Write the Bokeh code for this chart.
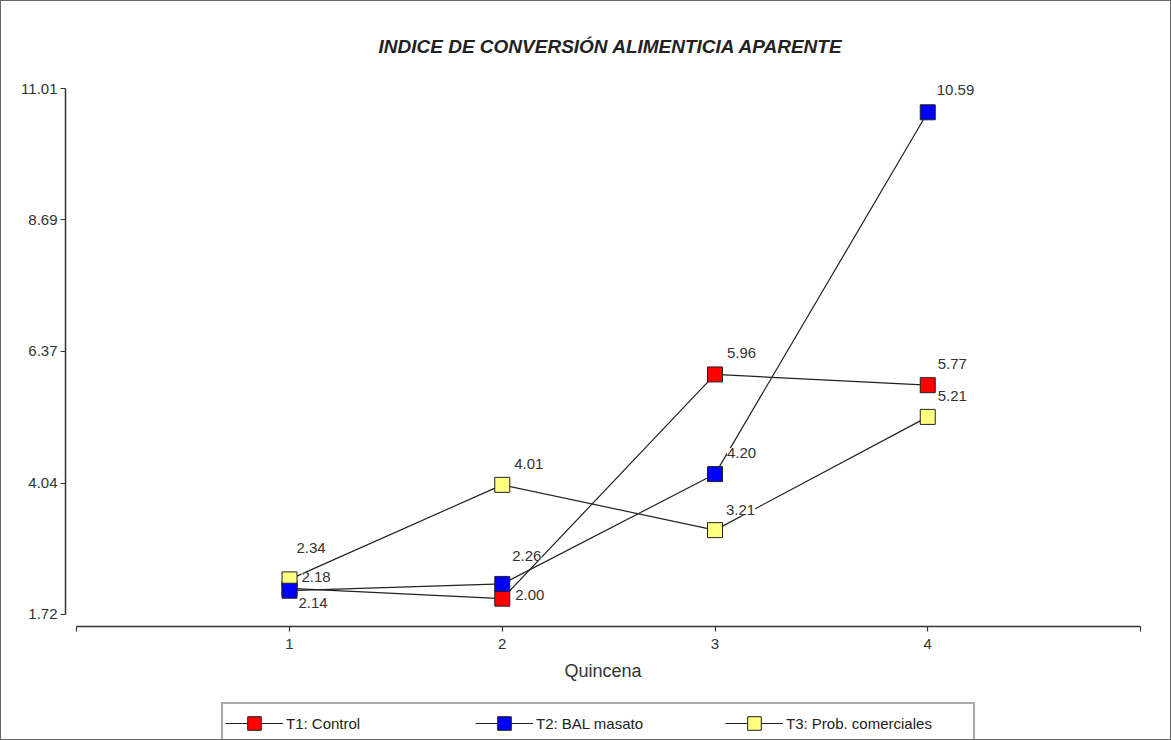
from bokeh.plotting import figure
from bokeh.layouts import column
from bokeh.models import (ColumnDataSource, FixedTicker, LabelSet, Legend, LegendItem,
                          Range1d)
from bokeh.core.properties import value
from bokeh.embed import file_html
from bokeh.resources import INLINE

# ---- data ----
quincena = [1, 2, 3, 4]
t1_control = [2.18, 2.00, 5.96, 5.77]
t2_bal_masato = [2.14, 2.26, 4.20, 10.59]
t3_prob_comerciales = [2.34, 4.01, 3.21, 5.21]
series_names = ["T1: Control", "T2: BAL masato", "T3: Prob. comerciales"]
y_tick_values = [1.72, 4.04, 6.37, 8.69, 11.01]
y_tick_labels = ["1.72", "4.04", "6.37", "8.69", "11.01"]
x_tick_values = [0, 1, 2, 3, 4, 5]
x_tick_labels = ["", "1", "2", "3", "4", ""]
title_text = "INDICE DE CONVERSIÓN ALIMENTICIA APARENTE"
x_axis_title = "Quincena"

# ---- style (label placement, colours) ----
colors = ["#FF0000", "#0000FF", "#FFFF80"]
label_dx = [[12, 13, 12, 10], [9, 10, 12, 9], [7, 12, 11, 10]]
label_dy = [[11, 4, 21, 21], [-12, 28, 21, 22], [31, 21, 20, 21]]

FONT = "Liberation Sans"
TXT = "#333333"
W = 1169

p = figure(width=W, height=700, output_backend="svg", toolbar_location=None,
           x_range=Range1d(-0.053, 5.0), y_range=Range1d(1.508, 11.24),
           min_border_left=64, min_border_right=30, min_border_top=74,
           min_border_bottom=75)
p.grid.visible = False
p.outline_line_color = None
p.background_fill_color = "white"
p.border_fill_color = "white"

# title
p.title.text = title_text
p.title.align = "left"
p.title.offset = 313
p.title.standoff = 38
p.title.text_font = FONT
p.title.text_font_style = "bold italic"
p.title.text_font_size = "19px"
p.title.text_color = "#222222"

# axes
for ax in (p.xaxis[0], p.yaxis[0]):
    ax.axis_line_color = "#333333"
    ax.axis_line_width = 1.5
    ax.major_tick_line_color = "#333333"
    ax.major_tick_line_width = 1.2
    ax.major_tick_out = 5
    ax.major_tick_in = 0
    ax.minor_tick_line_color = None
    ax.major_label_text_font = FONT
    ax.major_label_text_font_size = "15px"
    ax.major_label_text_color = TXT

p.yaxis.ticker = FixedTicker(ticks=y_tick_values)
p.yaxis.major_label_overrides = {v: s for v, s in zip(y_tick_values, y_tick_labels)}
p.yaxis.bounds = (y_tick_values[0], y_tick_values[-1])
p.yaxis.major_label_standoff = 3

p.xaxis.ticker = FixedTicker(ticks=x_tick_values)
p.xaxis.major_label_overrides = {v: s for v, s in zip(x_tick_values, x_tick_labels)}
p.xaxis.bounds = (x_tick_values[0], x_tick_values[-1])
p.xaxis.major_label_standoff = 7
p.xaxis.axis_label = x_axis_title
p.xaxis.axis_label_text_font = FONT
p.xaxis.axis_label_text_font_style = "normal"
p.xaxis.axis_label_text_font_size = "18px"
p.xaxis.axis_label_text_color = TXT
p.xaxis.axis_label_standoff = 9

# series
all_series = [t1_control, t2_bal_masato, t3_prob_comerciales]
sources = []
for i, vals in enumerate(all_series):
    src = ColumnDataSource(dict(x=quincena, y=vals,
                                txt=[f"{v:.2f}" for v in vals],
                                dx=label_dx[i], dy=label_dy[i]))
    p.line("x", "y", source=src, line_color="#222222", line_width=1.2)
    sources.append(src)

for src in sources:
    ls = LabelSet(x="x", y="y", text="txt", source=src, x_offset="dx", y_offset="dy",
                  text_font=value(FONT), text_font_size=value("15px"),
                  text_color=TXT, text_baseline="middle", text_align="left",
                  background_fill_color="white")
    p.add_layout(ls)

for i in [0, 2, 1]:
    p.scatter("x", "y", source=sources[i], marker="square", size=15,
              fill_color=colors[i], line_color="#222222", line_width=1)

# ---- legend strip (separate canvas under the chart) ----
lg = figure(width=W, height=38, output_backend="svg", toolbar_location=None,
            x_axis_type=None, y_axis_type=None,
            x_range=Range1d(-1, 0), y_range=Range1d(-1, 0),
            min_border_left=0, min_border_right=0, min_border_top=0,
            min_border_bottom=0)
lg.grid.visible = False
lg.outline_line_color = None
lg.background_fill_color = "white"
lg.border_fill_color = "white"

items = []
for i, name in enumerate(series_names):
    # proxies for the legend: same series, drawn outside this strip's view
    r_line = lg.line("x", "y", source=sources[i], line_color="#222222", line_width=1.2)
    r_mark = lg.scatter("x", "y", source=sources[i], marker="square",
                        fill_color=colors[i], line_color="#222222", line_width=1)
    items.append(LegendItem(label=name, renderers=[r_line, r_mark]))

legend = Legend(items=items, orientation="horizontal", location=(156, -5),
                glyph_width=58, glyph_height=34, label_standoff=3, label_width=185,
                spacing=4, padding=2, margin=0,
                label_text_font=FONT, label_text_font_size="15px",
                label_text_color="#222222",
                border_line_color="#555555", border_line_width=2,
                background_fill_color="white", background_fill_alpha=1)
lg.add_layout(legend)

layout = column(p, lg, spacing=0, styles={"border": "1px solid #666"})

open("out.html", "w").write(file_html(layout, INLINE))
